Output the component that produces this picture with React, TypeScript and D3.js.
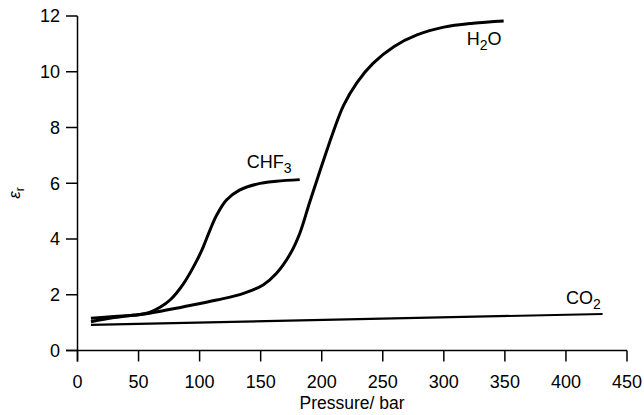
import React from "react";
import * as d3 from "d3";

const xTicks = [0, 50, 100, 150, 200, 250, 300, 350, 400, 450];
const yTicks = [0, 2, 4, 6, 8, 10, 12];

const h2oP = [11, 30, 59, 87, 114, 136, 152, 163, 174, 182, 190, 199, 209.5, 218, 229, 242, 259, 278, 300, 324, 349];
const h2oE = [1.03, 1.18, 1.34, 1.57, 1.81, 2.05, 2.35, 2.77, 3.45, 4.2, 5.3, 6.5, 7.85, 8.8, 9.62, 10.3, 10.9, 11.32, 11.6, 11.74, 11.82];

const chf3P = [11, 30, 50, 59, 67.6, 76, 87, 98, 103, 108.5, 114, 122, 133, 147, 163, 182];
const chf3E = [1.16, 1.22, 1.28, 1.37, 1.55, 1.82, 2.41, 3.25, 3.72, 4.32, 4.86, 5.4, 5.76, 5.97, 6.07, 6.13];

const co2P = [11, 430];
const co2E = [0.92, 1.31];

const FONT = "'Liberation Sans', Arial, Helvetica, sans-serif";

export default function App() {
  const W = 644, H = 415;
  const x = d3.scaleLinear().domain([0, 450]).range([77.5, 627]);
  const y = d3.scaleLinear().domain([0, 12]).range([350.5, 16]);
  const line = d3
    .line<[number, number]>()
    .x((d) => x(d[0]))
    .y((d) => y(d[1]))
    .curve(d3.curveCatmullRom.alpha(0.5));
  const zip = (a: number[], b: number[]) => a.map((v, i) => [v, b[i]] as [number, number]);

  const x0 = x(0);
  const y0 = y(0);

  return (
    <svg width={W} height={H} style={{ position: "absolute", left: 0, top: 0, background: "#fff" }} fontFamily={FONT}>
      {/* axes */}
      <line x1={x0} x2={x0} y1={y(12)} y2={y0 + 11} stroke="#000" strokeWidth={1.5} />
      <line x1={x0 - 11.5} x2={x(450)} y1={y0} y2={y0} stroke="#000" strokeWidth={1.5} />
      {yTicks.map((t) => (
        <g key={"y" + t}>
          <line x1={x0 - 11.5} x2={x0} y1={y(t)} y2={y(t)} stroke="#000" strokeWidth={1.5} />
          <text x={60} y={y(t)} dy="0.36em" textAnchor="end" fontSize={18} fill="#000">
            {t}
          </text>
        </g>
      ))}
      {xTicks.map((t) => (
        <g key={"x" + t}>
          <line x1={x(t)} x2={x(t)} y1={y0} y2={y0 + 11} stroke="#000" strokeWidth={1.5} />
          <text x={x(t)} y={388} textAnchor="middle" fontSize={18} fill="#000">
            {t}
          </text>
        </g>
      ))}
      <text x={352} y={409} textAnchor="middle" fontSize={17.5} fill="#000">
        Pressure/ bar
      </text>
      <text transform="translate(20,193) rotate(-90)" textAnchor="middle" fontSize={17} fill="#000">
        <tspan fontStyle="italic">ε</tspan>
        <tspan fontSize={12} dy={4}>r</tspan>
      </text>

      {/* curves */}
      <path d={line(zip(co2P, co2E)) || ""} fill="none" stroke="#000" strokeWidth={2.2} />
      <path d={line(zip(h2oP, h2oE)) || ""} fill="none" stroke="#000" strokeWidth={3} />
      <path d={line(zip(chf3P, chf3E)) || ""} fill="none" stroke="#000" strokeWidth={3} />

      {/* labels */}
      <text x={246.7} y={168.3} fontSize={18} fill="#000">
        CHF<tspan fontSize={14} dy={5}>3</tspan>
      </text>
      <text x={466.7} y={45} fontSize={18} fill="#000">
        H<tspan fontSize={14} dy={5}>2</tspan><tspan dy={-5}>O</tspan>
      </text>
      <text x={566} y={304.3} fontSize={18} fill="#000">
        CO<tspan fontSize={14} dy={5}>2</tspan>
      </text>
    </svg>
  );
}
